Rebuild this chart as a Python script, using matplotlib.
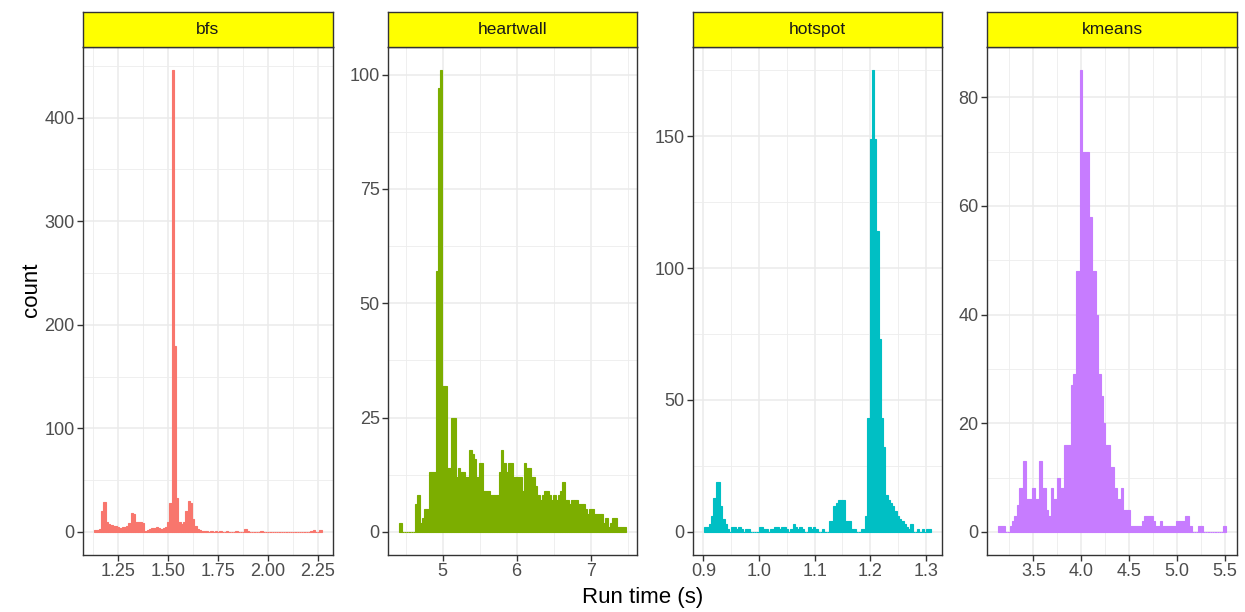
import numpy as np
import matplotlib
matplotlib.use("Agg")
import matplotlib.pyplot as plt
from matplotlib.ticker import MultipleLocator, FixedLocator, FixedFormatter

plt.rcParams['font.family'] = ['Liberation Sans', 'DejaVu Sans']

benchmarks = ["bfs", "heartwall", "hotspot", "kmeans"]
colors = ["#F8766D", "#7CAE00", "#00BFC4", "#C77CFF"]

# first and last bin edge of each 100-bin histogram (seconds)
bfs_range = (1.133, 2.270)
heartwall_range = (4.414, 7.473)
hotspot_range = (0.9018, 1.3084)
kmeans_range = (3.135, 5.506)

# counts per bin
bfs_counts = [2, 2, 3, 20, 29, 10, 8, 7, 6, 6,
              5, 4, 5, 5, 6, 9, 18, 17, 10, 10,
              10, 9, 1, 2, 3, 4, 4, 5, 4, 3,
              4, 5, 10, 28, 446, 180, 33, 10, 8, 10,
              20, 30, 28, 12, 6, 3, 2, 1, 1, 1,
              0, 1, 0, 1, 0, 1, 0, 0, 1, 0,
              0, 0, 1, 0, 0, 0, 3, 1, 0, 0,
              0, 0, 0, 1, 0, 0, 0, 0, 0, 0,
              0, 0, 0, 0, 0, 0, 0, 0, 0, 0,
              0, 0, 0, 0, 0, 1, 2, 0, 0, 2]
heartwall_counts = [2, 0, 0, 0, 0, 0, 0, 6, 8, 2,
                    3, 5, 5, 13, 13, 13, 57, 97, 101, 32,
                    32, 14, 14, 25, 25, 12, 14, 13, 13, 12,
                    12, 18, 17, 16, 12, 15, 15, 9, 9, 9,
                    8, 8, 8, 8, 13, 18, 15, 13, 15, 15,
                    12, 12, 12, 12, 9, 15, 14, 14, 12, 12,
                    10, 8, 7, 8, 9, 9, 8, 7, 8, 7,
                    8, 9, 11, 7, 7, 6, 7, 7, 7, 6,
                    6, 6, 5, 4, 5, 5, 4, 4, 4, 4,
                    2, 3, 1, 2, 3, 3, 1, 1, 1, 1]
hotspot_counts = [2, 2, 3, 6, 13, 19, 19, 10, 5, 3,
                  1, 0, 2, 2, 1, 2, 1, 0, 1, 1,
                  0, 0, 0, 0, 2, 2, 1, 1, 0, 1,
                  1, 2, 2, 1, 2, 2, 1, 0, 1, 3,
                  2, 1, 2, 1, 0, 0, 2, 1, 2, 1,
                  0, 0, 1, 0, 0, 4, 4, 10, 11, 12,
                  12, 12, 4, 4, 4, 1, 1, 0, 0, 1,
                  1, 6, 43, 149, 175, 149, 114, 73, 43, 32,
                  14, 12, 11, 10, 8, 6, 5, 4, 3, 2,
                  1, 3, 0, 0, 1, 0, 1, 0, 1, 1]
kmeans_counts = [1, 1, 1, 0, 0, 1, 2, 3, 5, 8,
                 8, 13, 6, 6, 6, 8, 6, 6, 13, 8,
                 8, 4, 3, 8, 6, 6, 10, 8, 8, 16,
                 16, 16, 27, 29, 48, 48, 85, 70, 70, 70,
                 58, 48, 48, 40, 29, 25, 20, 16, 16, 12,
                 12, 8, 6, 6, 8, 4, 4, 4, 1, 1,
                 1, 1, 1, 2, 3, 3, 3, 3, 2, 1,
                 1, 2, 1, 1, 1, 1, 1, 1, 2, 2,
                 2, 2, 3, 3, 1, 0, 0, 0, 1, 1,
                 0, 0, 0, 0, 0, 0, 0, 0, 0, 1]

bfs_xticks = [1.25, 1.50, 1.75, 2.00, 2.25]
heartwall_xticks = [5, 6, 7]
hotspot_xticks = [0.9, 1.0, 1.1, 1.2, 1.3]
kmeans_xticks = [3.5, 4.0, 4.5, 5.0, 5.5]
bfs_xlabels = ["1.25", "1.50", "1.75", "2.00", "2.25"]
heartwall_xlabels = ["5", "6", "7"]
hotspot_xlabels = ["0.9", "1.0", "1.1", "1.2", "1.3"]
kmeans_xlabels = ["3.5", "4.0", "4.5", "5.0", "5.5"]

bfs_yticks = [0, 100, 200, 300, 400]
heartwall_yticks = [0, 25, 50, 75, 100]
hotspot_yticks = [0, 50, 100, 150]
kmeans_yticks = [0, 20, 40, 60, 80]

ranges = [bfs_range, heartwall_range, hotspot_range, kmeans_range]
counts = [bfs_counts, heartwall_counts, hotspot_counts, kmeans_counts]
xticks = [bfs_xticks, heartwall_xticks, hotspot_xticks, kmeans_xticks]
xlabels = [bfs_xlabels, heartwall_xlabels, hotspot_xlabels, kmeans_xlabels]
yticks = [bfs_yticks, heartwall_yticks, hotspot_yticks, kmeans_yticks]

W, H = 1245, 612
fig = plt.figure(figsize=(W / 100, H / 100), dpi=100)

panel_x = [(83, 333), (388, 637), (693, 942), (987, 1237)]
top, bottom, strip_top = 47, 555, 12

for k in range(4):
    x0, x1 = panel_x[k]
    ax = fig.add_axes([x0 / W, 1 - bottom / H, (x1 - x0) / W, (bottom - top) / H])
    lo, hi = ranges[k]
    c = np.array(counts[k])
    edges = np.linspace(lo, hi, len(c) + 1)
    w = edges[1] - edges[0]
    ax.bar(edges[:-1], c, width=w, align="edge", color=colors[k],
           edgecolor=colors[k], linewidth=0.8, zorder=3)

    span = hi - lo
    ax.set_xlim(lo - 0.05 * span, hi + 0.05 * span)
    ymax = c.max()
    ax.set_ylim(-0.05 * ymax, 1.05 * ymax)

    ax.xaxis.set_major_locator(FixedLocator(xticks[k]))
    ax.xaxis.set_major_formatter(FixedFormatter(xlabels[k]))
    xs = xticks[k][1] - xticks[k][0]
    ax.xaxis.set_minor_locator(MultipleLocator(xs / 2))
    ax.yaxis.set_major_locator(FixedLocator(yticks[k]))
    ys = yticks[k][1] - yticks[k][0]
    ax.yaxis.set_minor_locator(MultipleLocator(ys / 2))

    ax.grid(which="major", color="#EBEBEB", linewidth=1.1, zorder=0)
    ax.grid(which="minor", color="#EDEDED", linewidth=0.6, zorder=0)
    ax.set_axisbelow(True)
    ax.tick_params(which="major", length=4, width=1.0, color="#333333",
                   labelsize=13, labelcolor="#4D4D4D", pad=2)
    ax.tick_params(which="minor", length=0)
    for s in ax.spines.values():
        s.set_color("#333333")
        s.set_linewidth(1.0)

    # facet strip
    sax = fig.add_axes([x0 / W, 1 - top / H, (x1 - x0) / W, (top - strip_top) / H])
    sax.set_facecolor("yellow")
    sax.set_xticks([])
    sax.set_yticks([])
    for s in sax.spines.values():
        s.set_color("#333333")
        s.set_linewidth(1.0)
    sax.text(0.5, 0.5, benchmarks[k], ha="center", va="center",
             fontsize=12.5, color="#1A1A1A", transform=sax.transAxes)

fig.text(643 / W, 1 - 598 / H, "Run time (s)", ha="center", va="center",
         fontsize=16, color="black")
fig.text(32 / W, 1 - 290 / H, "count", ha="center", va="center",
         rotation=90, fontsize=16, color="black")

fig.savefig("out.png", dpi=100, facecolor="white")
